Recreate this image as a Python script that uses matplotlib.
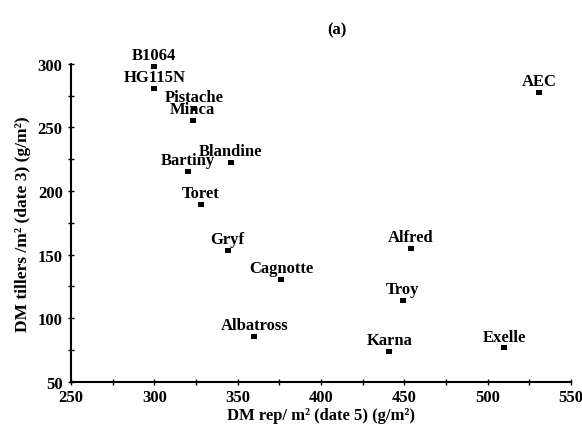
import matplotlib.pyplot as plt
from matplotlib.ticker import MultipleLocator

plt.rcParams['font.family'] = ['Liberation Serif', 'DejaVu Serif']
plt.rcParams['font.weight'] = 'bold'

names = ['B1064', 'HG115N', 'Pistache', 'Minca', 'Blandine', 'Bartiny', 'Toret',
         'Gryf', 'Cagnotte', 'Alfred', 'Troy', 'Albatross', 'Karna', 'AEC', 'Exelle']
dm_rep = [300, 300, 324, 323, 346, 320, 328, 344, 376, 454, 449, 360, 441, 531, 510]
dm_tillers = [298, 281, 265, 256, 223, 216, 190, 154, 131, 155, 114, 86, 74, 278, 77]

fig = plt.figure(figsize=(5.82, 4.35), dpi=100)
ax = fig.add_axes([0.122, 0.12, 0.859, 0.731])

# slightly wide square marker, like the scanned original
box = [(-1, -0.72), (1, -0.72), (1, 0.72), (-1, 0.72), (-1, -0.72)]
ax.plot(dm_rep, dm_tillers, ls='none', marker=box, color='black', ms=5, mew=0)
for n, x, y in zip(names, dm_rep, dm_tillers):
    ax.annotate(n, (x, y), xytext=(0, 5), textcoords='offset points',
                ha='center', va='baseline', fontsize=12, fontweight='bold')

ax.set_xlim(250, 550)
ax.set_ylim(50, 300)
ax.xaxis.set_major_locator(MultipleLocator(50))
ax.xaxis.set_minor_locator(MultipleLocator(25))
ax.yaxis.set_major_locator(MultipleLocator(50))
ax.yaxis.set_minor_locator(MultipleLocator(25))
ax.tick_params(which='both', direction='inout', length=5, width=1, labelsize=12)
ax.tick_params(axis='x', pad=3)
ax.spines['top'].set_visible(False)
ax.spines['right'].set_visible(False)
ax.spines['left'].set_linewidth(1.5)
ax.spines['bottom'].set_linewidth(1.5)

ax.set_xlabel('DM rep/ m² (date 5) (g/m²)', fontsize=12, fontweight='bold', labelpad=1)
ax.set_ylabel('DM tillers /m² (date 3) (g/m²)', fontsize=12.5, fontweight='bold', labelpad=5)
fig.text(337 / 582, 0.931, '(a)', ha='center', va='center',
         fontsize=12, fontweight='bold')

fig.savefig('out.png', dpi=100)
